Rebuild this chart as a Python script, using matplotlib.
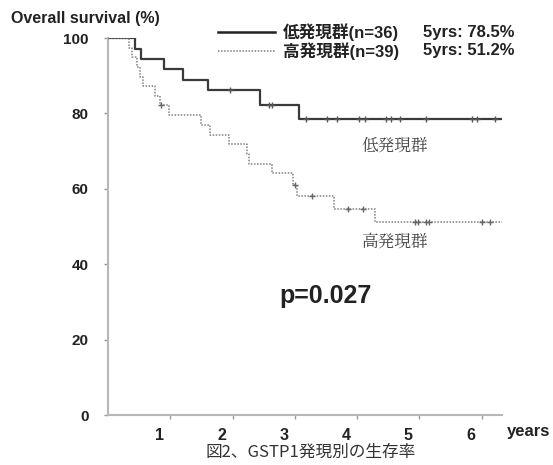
import numpy as np
import matplotlib
matplotlib.use("Agg")
import matplotlib.pyplot as plt
from matplotlib.transforms import ScaledTranslation

plt.rcParams['font.family'] = ['Liberation Sans', 'Noto Sans CJK JP', 'DejaVu Sans']

# Low-expression group (solid)
low_times = [0, 0.43, 0.53, 0.90, 1.21, 1.61, 2.44, 3.07, 6.32]
low_surv = [100, 97.2, 94.4, 91.7, 88.9, 86.1, 82.3, 78.5, 78.5]
low_censor = [1.96, 2.59, 2.64, 3.18, 3.52, 3.68, 4.03, 4.12, 4.46, 4.54, 4.69, 5.11, 5.85, 5.93, 6.21]

# High-expression group (dotted)
high_times = [0, 0.33, 0.38, 0.47, 0.52, 0.56, 0.75, 0.83, 0.98, 1.50, 1.63, 1.95, 2.23, 2.27,
              2.63, 2.97, 3.03, 3.63, 4.28, 6.32]
high_surv = [100, 97.4, 94.9, 92.3, 89.7, 87.2, 84.6, 82.1, 79.5, 76.9, 74.4, 71.8, 69.2, 66.7,
             64.1, 61.0, 58.0, 54.7, 51.2, 51.2]
high_censor = [0.85, 3.00, 3.27, 3.86, 4.10, 4.93, 4.98, 5.11, 5.16, 6.00, 6.13]

legend_names = ['低発現群(n=36)', '高発現群(n=39)']
legend_5yr = ['5yrs: 78.5%', '5yrs: 51.2%']
group_labels = ['低発現群', '高発現群']
p_text = 'p=0.027'
y_ticks = [0, 20, 40, 60, 80, 100]
x_ticks = [1, 2, 3, 4, 5, 6]
caption = '図2、GSTP1発現別の生存率'

fig = plt.figure(figsize=(5.53, 4.65), dpi=100)
ax = fig.add_axes([108/553, 1-415/465, (501.7-108)/553, (415-38)/465])

def surv_at(times, surv, t):
    i = np.searchsorted(times, t, side='right') - 1
    return surv[i]

ax.step(low_times, low_surv, where='post', color='#3a3a3a', lw=1.6, zorder=3)
ax.step(high_times, high_surv, where='post', color='#808080', lw=1.1, ls=(0, (1, 1)), zorder=3)

ax.plot(low_censor, [surv_at(low_times, low_surv, t) for t in low_censor], ls='none',
        marker='+', ms=5, mew=1.0, color='#555555', zorder=4)
ax.plot(high_censor, [surv_at(high_times, high_surv, t) for t in high_censor], ls='none',
        marker='+', ms=5, mew=1.0, color='#666666', zorder=4)

ax.set_xlim(0, 6.32)
ax.set_ylim(0, 100)
for s in ['top', 'right']:
    ax.spines[s].set_visible(False)
for s in ['left', 'bottom']:
    ax.spines[s].set_color('#b8b8b8')
    ax.spines[s].set_linewidth(1.5)
ax.set_yticks(y_ticks)
ax.set_xticks(x_ticks)
ax.tick_params(axis='both', length=3, width=1, color='#999999')
ax.tick_params(axis='y', pad=11)
ax.tick_params(axis='x', pad=6)
ax.set_yticklabels([str(v) for v in y_ticks], fontsize=11, fontweight='bold', color='#222222')
ax.set_xticklabels([str(v) for v in x_ticks], fontsize=11.5, fontweight='bold', color='#222222')
shift = ScaledTranslation(-11/100, 0, fig.dpi_scale_trans)
for lab in ax.get_xticklabels():
    lab.set_transform(lab.get_transform() + shift)

# Titles / labels
fig.text(11/553, 1-18/465, 'Overall survival (%)', fontsize=11.5, fontweight='bold',
         ha='left', va='center', color='#222222')
fig.text(507/553, 1-431/465, 'years', fontsize=12, fontweight='bold',
         ha='left', va='center', color='#222222')

# Legend (manual)
for i, (name, fy) in enumerate(zip(legend_names, legend_5yr)):
    ypix = 32 + i * 19
    yf = 1 - ypix/465
    if i == 0:
        fig.add_artist(plt.Line2D([218/553, 275/553], [yf, yf], color='#222222', lw=1.8))
    else:
        fig.add_artist(plt.Line2D([218/553, 275/553], [yf, yf], color='#808080', lw=1.1,
                                  ls=(0, (1, 1))))
    fig.text(283/553, yf, name, fontsize=12, fontweight='bold', ha='left', va='center', color='#222222')
    fig.text(423/553, yf, fy, fontsize=12, fontweight='bold', ha='left', va='center', color='#222222')

# Group labels
ax.text(4.6, 71.5, group_labels[0], fontsize=12, ha='center', va='center', color='#444444',
        family=['Noto Serif CJK JP', 'Noto Sans CJK JP'])
ax.text(4.6, 45.8, group_labels[1], fontsize=12, ha='center', va='center', color='#444444',
        family=['Noto Serif CJK JP', 'Noto Sans CJK JP'])

ax.text(3.5, 31.5, p_text, fontsize=18, fontweight='bold', ha='center', va='center', color='#222222')

fig.text(311/553, 1-452/465, caption, fontsize=12, ha='center', va='center', color='#333333',
         family=['Noto Sans CJK JP', 'DejaVu Sans'])

fig.savefig('out.png', dpi=100)
